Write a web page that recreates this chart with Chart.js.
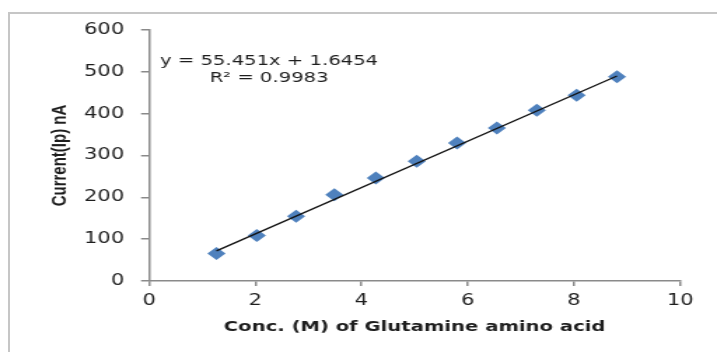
<!DOCTYPE html>
<html>
<head>
<meta charset="utf-8">
<script src="https://cdn.jsdelivr.net/npm/chart.js@4/dist/chart.umd.min.js"></script>
<style>
  html, body { margin: 0; padding: 0; background: #fff; overflow: hidden; width: 717px; height: 352px; }
  #frame { position: absolute; left: 8px; top: 12px; width: 900px; height: 500px;
           border-left: 2px solid #c6c6c6; border-top: 2px solid #c6c6c6; }
  #wrap { position: absolute; left: 0; top: 0; width: 512px; height: 352px;
          transform: scaleX(1.4004); transform-origin: 0 0; }
</style>
</head>
<body>
<div id="frame"></div>
<div id="wrap"><canvas id="c" width="512" height="352"></canvas></div>
<script>
// Data
const concX = [1.27, 2.03, 2.77, 3.49, 4.27, 5.04, 5.8, 6.55, 7.3, 8.05, 8.81];
const currentY = [66, 109, 155, 206, 246, 286, 330, 366, 408, 444, 488];
// Linear trendline end points (as drawn)
const trendX = [1.27, 8.81];
const trendY = [72, 490];
// Axis settings
const xTicks = [0, 2, 4, 6, 8, 10];
const yTicks = [0, 100, 200, 300, 400, 500, 600];
const xTitle = 'Conc. (M) of Glutamine amino acid';
const yTitle = 'Current(Ip) nA';
const eqLines = ['y = 55.451x + 1.6454', 'R\u00B2 = 0.9983'];
const eqAnchorX = [2.26, 2.26];
const eqAnchorY = [526, 484];

const axisColor = '#8a8a8a';
const textColor = '#1e1e1e';

const eqPlugin = {
  id: 'eq',
  afterDatasetsDraw(chart) {
    const {ctx, scales} = chart;
    ctx.save();
    ctx.fillStyle = textColor;
    ctx.font = '14px "DejaVu Sans"';
    ctx.textAlign = 'center';
    ctx.textBaseline = 'middle';
    eqLines.forEach((t, i) => {
      ctx.fillText(t, scales.x.getPixelForValue(eqAnchorX[i]), scales.y.getPixelForValue(eqAnchorY[i]));
    });
    ctx.restore();
  }
};

new Chart(document.getElementById('c'), {
  type: 'scatter',
  data: {
    datasets: [
      {
        label: 'trend',
        type: 'line',
        data: trendX.map((x, i) => ({x, y: trendY[i]})),
        borderColor: '#111',
        borderWidth: 1.3,
        pointRadius: 0,
        fill: false,
        order: 0
      },
      {
        label: 'data',
        data: concX.map((x, i) => ({x, y: currentY[i]})),
        pointStyle: 'rectRot',
        pointRadius: 6.5,
        backgroundColor: '#4f81bd',
        borderColor: '#4f81bd',
        borderWidth: 0,
        order: 1
      }
    ]
  },
  options: {
    responsive: false,
    animation: false,
    devicePixelRatio: 1,
    layout: { padding: { left: 0, right: 26.3, top: 30, bottom: 0 } },
    plugins: { legend: { display: false }, tooltip: { enabled: false } },
    scales: {
      x: {
        type: 'linear', min: 0, max: 10,
        afterBuildTicks: s => { s.ticks = xTicks.map(v => ({value: v})); },
        afterFit: s => { s.height = 71; },
        grid: { drawOnChartArea: false, tickLength: 5, color: axisColor, lineWidth: 1.5 },
        border: { color: axisColor, width: 1.5 },
        ticks: { color: textColor, font: { family: 'DejaVu Sans', size: 15 }, padding: 6, maxRotation: 0 },
        title: { display: true, text: xTitle, color: textColor,
                 font: { family: 'DejaVu Sans', size: 14, weight: 'bold' }, padding: { top: 0, bottom: 16.6 } }
      },
      y: {
        type: 'linear', min: 0, max: 600,
        afterBuildTicks: s => { s.ticks = yTicks.map(v => ({value: v})); },
        afterFit: s => { s.width = 106.4; },
        grid: { drawOnChartArea: false, tickLength: 5.7, color: axisColor, lineWidth: 1.5 },
        border: { color: axisColor, width: 1.5 },
        ticks: { color: textColor, font: { family: 'DejaVu Sans', size: 15 }, padding: 12 },
        title: { display: true, text: yTitle, color: textColor,
                 font: { family: 'Liberation Sans', size: 15, weight: 'bold' }, padding: { top: 34, bottom: 0 } }
      }
    }
  },
  plugins: [eqPlugin]
});
</script>
</body>
</html>
